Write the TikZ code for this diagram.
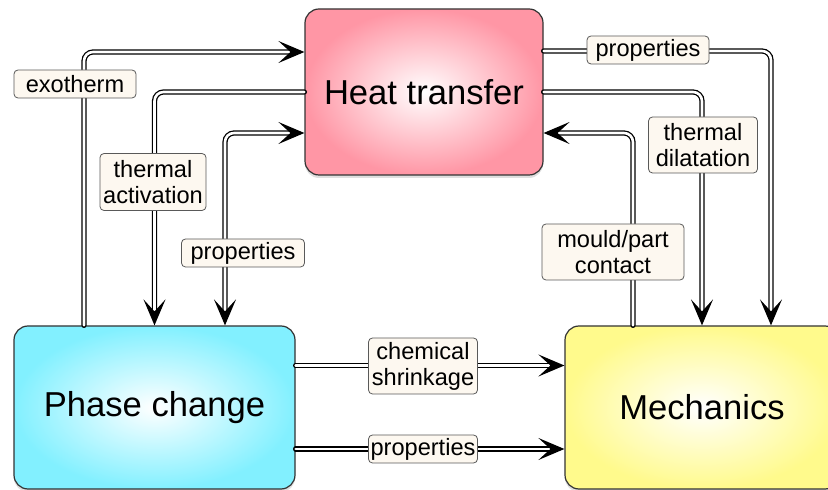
\documentclass[tikz,border=0pt]{standalone}
\usepackage{fontspec}
\setmainfont{Liberation Sans}
\usetikzlibrary{arrows.meta,shadows}

\definecolor{heatpink}{RGB}{255,150,165}
\definecolor{phasecyan}{RGB}{130,240,255}
\definecolor{mechyellow}{RGB}{255,250,140}
\definecolor{tagcream}{RGB}{253,248,240}

\begin{document}
\begin{tikzpicture}[
    x=1pt, y=1pt,
    line cap=round,
    >={Stealth[length=26pt,width=22pt,inset=12pt]},
    block/.style={draw=black!80, line width=1.2pt, rounded corners=14pt,
      shading=radial, inner color=white,
      drop shadow={shadow xshift=0pt, shadow yshift=-3pt, opacity=0.25},
      font=\fontsize{34.6}{40}\selectfont},
    pipe/.style={double, double distance=2.6pt, line width=1.3pt, rounded corners=9pt},
    tag/.style={draw=black!65, fill=tagcream, rounded corners=4pt, line width=0.8pt,
      inner sep=0pt, align=center, font=\fontsize{23.6}{26}\selectfont},
  ]
  \useasboundingbox (0,0) rectangle (828,490);

  % the three blocks
  \node[block, outer color=heatpink, minimum width=238, minimum height=166] (heat) at (424,398) {Heat transfer};
  \node[block, outer color=phasecyan, minimum width=281, minimum height=163] (phase) at (154.5,82.5) {Phase change};
  \node[block, outer color=mechyellow, minimum width=274, minimum height=163] (mech) at (702,82.5) {Mechanics};

  % couplings
  \draw[pipe, ->] ([xshift=-70.5pt]phase.north) |- ([yshift=40pt]heat.west);
  \draw[pipe, ->] (heat.west) -| (phase.north);
  \draw[pipe, <->] ([yshift=-41pt]heat.west) -| ([xshift=70.5pt]phase.north);
  \draw[pipe, ->] ([yshift=41pt]heat.east) -| ([xshift=69pt]mech.north);
  \draw[pipe, ->] (heat.east) -| (mech.north);
  \draw[pipe, ->] ([xshift=-69pt]mech.north) |- ([yshift=-41pt]heat.east);
  \draw[pipe, ->] ([yshift=42pt]phase.east) -- ([yshift=42pt]mech.west);
  \draw[pipe, ->] ([yshift=-41.5pt]phase.east) -- ([yshift=-41.5pt]mech.west);

  % labels
  \node[tag, minimum width=122, minimum height=28] (exo) at (75,406) {exotherm};
  \node[tag, minimum width=106, minimum height=57] (act) at (153,308) {thermal\\activation};
  \node[tag, minimum width=123, minimum height=28] (propleft) at (243,237) {properties};
  \node[tag, minimum width=122, minimum height=28] (proptop) at (648,440) {properties};
  \node[tag, minimum width=109, minimum height=56] (dil) at (703,345) {thermal\\dilatation};
  \node[tag, minimum width=142, minimum height=56] (contact) at (613,238) {mould/part\\contact};
  \node[tag, minimum width=109, minimum height=56] (shrink) at (423,124) {chemical\\shrinkage};
  \node[tag, minimum width=109, minimum height=28] (propbot) at (423,41) {properties};
\end{tikzpicture}
\end{document}
